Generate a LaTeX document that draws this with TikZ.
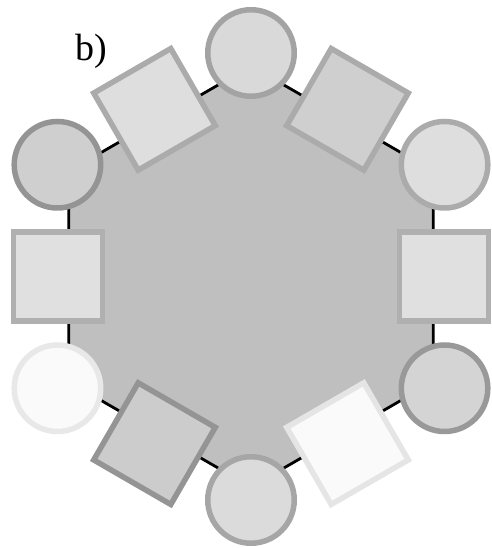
\documentclass[tikz,border=0pt]{standalone}
\usepackage{fontspec}
\setmainfont{Liberation Serif}
\definecolor{hexfill}{gray}{0.75}
\definecolor{fA}{gray}{0.85}\definecolor{dA}{gray}{0.64}
\definecolor{fB}{gray}{0.81}\definecolor{dB}{gray}{0.67}
\definecolor{fC}{gray}{0.87}\definecolor{dC}{gray}{0.67}
\definecolor{fD}{gray}{0.88}\definecolor{dD}{gray}{0.69}
\definecolor{fE}{gray}{0.83}\definecolor{dE}{gray}{0.60}
\definecolor{fF}{gray}{0.98}\definecolor{dF}{gray}{0.90}
\definecolor{fG}{gray}{0.86}\definecolor{dG}{gray}{0.65}
\definecolor{fH}{gray}{0.80}\definecolor{dH}{gray}{0.58}
\definecolor{fI}{gray}{0.98}\definecolor{dI}{gray}{0.91}
\definecolor{fJ}{gray}{0.88}\definecolor{dJ}{gray}{0.69}
\definecolor{fK}{gray}{0.81}\definecolor{dK}{gray}{0.58}
\definecolor{fL}{gray}{0.87}\definecolor{dL}{gray}{0.67}
\begin{document}
\begin{tikzpicture}[x=1pt,y=1pt,
  ring/.style={circle, line width=5.5pt, minimum size=86.5pt, inner sep=0pt, draw},
  tile/.style={rectangle, line width=5.5pt, minimum size=89pt, inner sep=0pt, draw},
  hexedge/.style={line width=2.8pt, draw=black, fill=hexfill}]
\useasboundingbox (0,0) rectangle (491,548);
\coordinate (c) at (251,271.5);
\foreach \a [count=\i] in {90,30,-30,-90,-150,150}
  \coordinate (v\i) at ([shift={(\a:210.5)}]c);
\path[hexedge] (v1) -- (v2) -- (v3) -- (v4) -- (v5) -- (v6) -- cycle;
% circles at the corners
\node[ring, fill=fA, draw=dA] (c1) at ([shift={(90:223.5)}]c) {};
\node[ring, fill=fC, draw=dC] (c2) at ([shift={(30:223.5)}]c) {};
\node[ring, fill=fE, draw=dE] (c3) at ([shift={(-30:223.5)}]c) {};
\node[ring, fill=fG, draw=dG] (c4) at ([shift={(-90:223.5)}]c) {};
\node[ring, fill=fI, draw=dI] (c5) at ([shift={(-150:223.5)}]c) {};
\node[ring, fill=fK, draw=dK] (c6) at ([shift={(150:223.5)}]c) {};
% squares on the sides
\node[tile, rotate=60, fill=fB, draw=dB] (s1) at ([shift={(60:193)}]c) {};
\node[tile, rotate=0, fill=fD, draw=dD] (s2) at ([shift={(0:193)}]c) {};
\node[tile, rotate=-60, fill=fF, draw=dF] (s3) at ([shift={(-60:193)}]c) {};
\node[tile, rotate=-120, fill=fH, draw=dH] (s4) at ([shift={(-120:193)}]c) {};
\node[tile, rotate=180, fill=fJ, draw=dJ] (s5) at ([shift={(180:193)}]c) {};
\node[tile, rotate=120, fill=fL, draw=dL] (s6) at ([shift={(120:193)}]c) {};
\node[anchor=base west, font=\fontsize{38}{40}\selectfont, inner sep=0pt] (lbl) at (75,487) {b)};
\end{tikzpicture}
\end{document}
